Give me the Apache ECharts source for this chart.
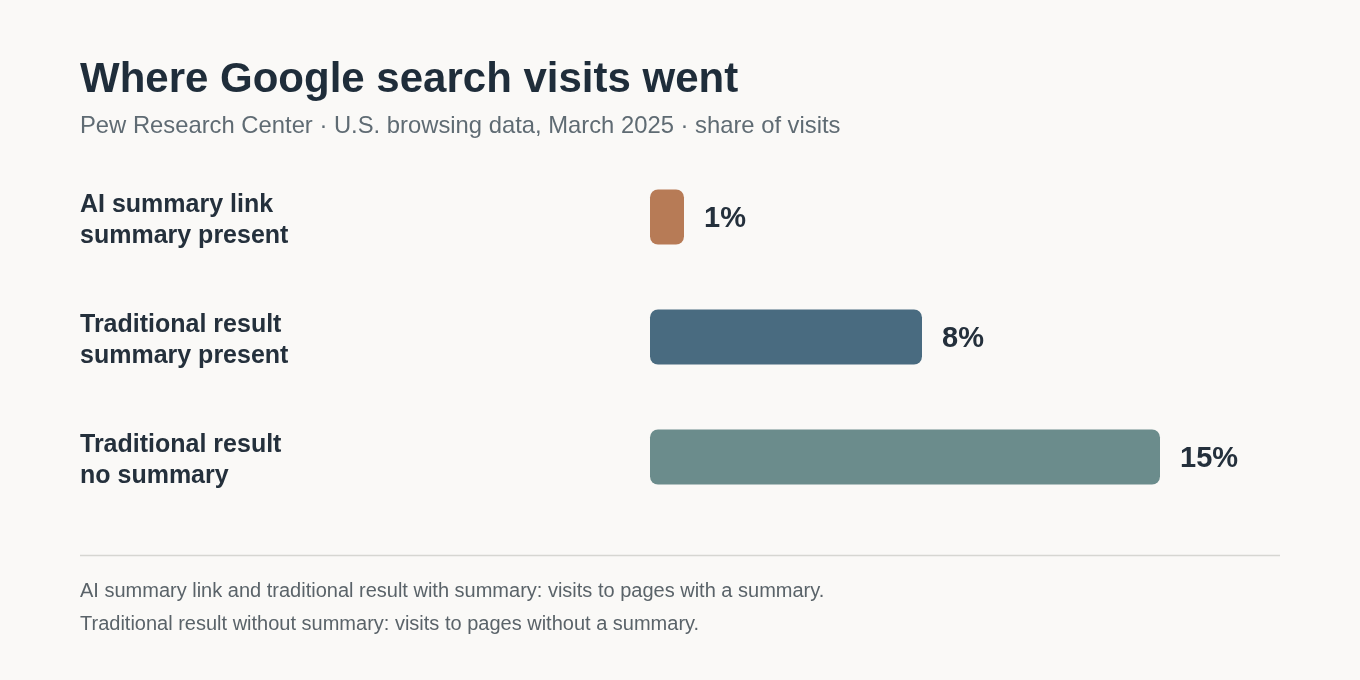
<!DOCTYPE html>
<html>
<head>
<meta charset="utf-8">
<script src="https://cdn.jsdelivr.net/npm/echarts@6/dist/echarts.min.js"></script>
<style>
html,body{margin:0;padding:0;background:#faf9f7;}
#c{width:1360px;height:680px;}
</style>
</head>
<body>
<div id="c"></div>
<script>
const categories = ["AI summary link\nsummary present", "Traditional result\nsummary present", "Traditional result\nno summary"];
const values = [1, 8, 15];
const barColors = ["#b77b56", "#496b80", "#6b8c8c"];
const titleText = "Where Google search visits went";
const subtitleText = "Pew Research Center · U.S. browsing data, March 2025 · share of visits";
const footLines = [
  "AI summary link and traditional result with summary: visits to pages with a summary.",
  "Traditional result without summary: visits to pages without a summary."
];

const FONT = "'Liberation Sans', Arial, sans-serif";
const chart = echarts.init(document.getElementById('c'));
chart.setOption({
  backgroundColor: '#faf9f7',
  animation: false,
  title: {
    text: titleText,
    subtext: subtitleText,
    left: 75,
    top: 54,
    itemGap: 13,
    textStyle: { fontFamily: FONT, fontSize: 42, fontWeight: 'bold', color: '#1f2d3a' },
    subtextStyle: { fontFamily: FONT, fontSize: 23.8, color: '#5f6b73' }
  },
  grid: { left: 650, top: 157, width: 612, height: 360 },
  xAxis: {
    type: 'value', min: 0, max: 18,
    show: false
  },
  yAxis: {
    type: 'category',
    data: categories,
    inverse: true,
    axisLine: { show: false },
    axisTick: { show: false },
    splitLine: { show: false },
    axisLabel: {
      align: 'left',
      margin: 570,
      formatter: function (v) {
        return '{s| }\n' + v.split('\n').map(function (l) { return '{a|' + l + '}'; }).join('\n');
      },
      rich: {
        s: { fontSize: 4, lineHeight: 8 },
        a: {
          fontFamily: FONT,
          fontSize: 25,
          fontWeight: 'bold',
          lineHeight: 31,
          color: '#24303c'
        }
      }
    }
  },
  series: [{
    type: 'bar',
    barWidth: 55,
    data: values.map((v, i) => ({ value: v, itemStyle: { color: barColors[i] } })),
    itemStyle: { borderRadius: 8 },
    label: {
      show: true,
      position: 'right',
      distance: 20,
      offset: [0, 2],
      formatter: '{c}%',
      fontFamily: FONT,
      fontSize: 29,
      fontWeight: 'bold',
      color: '#24303c'
    }
  }],
  graphic: [
    { type: 'line', shape: { x1: 80, y1: 555.5, x2: 1280, y2: 555.5 }, style: { stroke: '#d6d6d2', lineWidth: 1.5 } },
    { type: 'text', left: 80, top: 581, style: { text: footLines[0], font: "20px 'Liberation Sans', Arial, sans-serif", fill: '#5a6369' } },
    { type: 'text', left: 80, top: 614, style: { text: footLines[1], font: "20px 'Liberation Sans', Arial, sans-serif", fill: '#5a6369' } }
  ]
});
</script>
</body>
</html>
